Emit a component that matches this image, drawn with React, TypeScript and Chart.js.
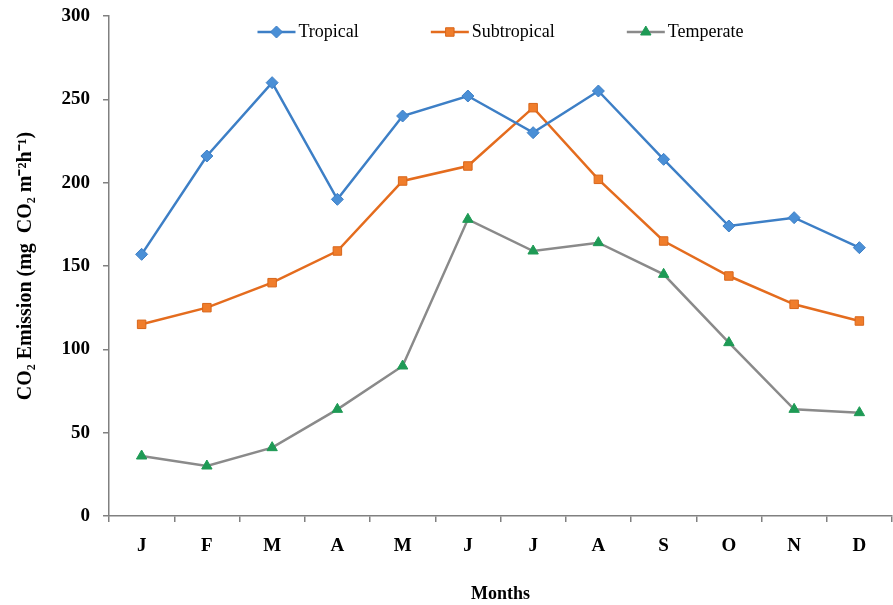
import React, { useEffect, useRef } from "react";
import { Chart, registerables } from "chart.js";

Chart.register(...registerables);

const months = ["J", "F", "M", "A", "M", "J", "J", "A", "S", "O", "N", "D"];
const tropical = [157, 216, 260, 190, 240, 252, 230, 255, 214, 174, 179, 161];
const subtropical = [115, 125, 140, 159, 201, 210, 245, 202, 165, 144, 127, 117];
const temperate = [36, 30, 41, 64, 90, 178, 159, 164, 145, 104, 64, 62];
const yTicks = [0, 50, 100, 150, 200, 250, 300];

const SERIF = '"Liberation Serif", "Times New Roman", serif';

function drawMarker(ctx: CanvasRenderingContext2D, style: string, r: number, x: number, y: number) {
  ctx.beginPath();
  if (style === "rectRot") {
    ctx.moveTo(x, y - r);
    ctx.lineTo(x + r, y);
    ctx.lineTo(x, y + r);
    ctx.lineTo(x - r, y);
  } else if (style === "rect") {
    const s = r * Math.SQRT1_2;
    ctx.rect(x - s, y - s, 2 * s, 2 * s);
  } else {
    const h = r * 1.5;
    ctx.moveTo(x, y - r);
    ctx.lineTo(x + h / Math.sqrt(3), y + r / 2);
    ctx.lineTo(x - h / Math.sqrt(3), y + r / 2);
  }
  ctx.closePath();
  ctx.fill();
  ctx.stroke();
}

const legendPlugin = {
  id: "customLegend",
  afterDraw(chart: any) {
    const ctx = chart.ctx;
    const area = chart.chartArea;
    const lineLen = 38;
    const gapText = 3;
    const gapItem = 72;
    const y = 32;
    ctx.save();
    ctx.font = `18px ${SERIF}`;
    const items = chart.data.datasets.map((ds: any) => ({
      ds,
      w: lineLen + gapText + ctx.measureText(ds.label).width,
    }));
    const total = items.reduce((s: number, it: any) => s + it.w, 0) + gapItem * (items.length - 1);
    let x = (area.left + area.right) / 2 - total / 2;
    items.forEach((it: any) => {
      const ds = it.ds;
      ctx.strokeStyle = ds.borderColor;
      ctx.lineWidth = ds.borderWidth;
      ctx.beginPath();
      ctx.moveTo(x, y);
      ctx.lineTo(x + lineLen, y);
      ctx.stroke();
      ctx.fillStyle = ds.pointBackgroundColor;
      ctx.strokeStyle = ds.pointBorderColor;
      ctx.lineWidth = 1;
      drawMarker(ctx, ds.pointStyle, ds.pointRadius, x + lineLen / 2, y);
      ctx.fillStyle = "#000";
      ctx.textBaseline = "middle";
      ctx.textAlign = "left";
      ctx.fillText(ds.label, x + lineLen + gapText, y);
      x += it.w + gapItem;
    });
    ctx.restore();
  },
};

export default function App() {
  const ref = useRef<HTMLCanvasElement>(null);
  useEffect(() => {
    if (!ref.current) return;
    const chart = new Chart(ref.current, {
      type: "line",
      data: {
        labels: months,
        datasets: [
          {
            label: "Tropical",
            data: tropical,
            borderColor: "#3D7FC6",
            borderWidth: 2.5,
            pointStyle: "rectRot",
            pointRadius: 6,
            pointBackgroundColor: "#4A8FD6",
            pointBorderColor: "#3D7FC6",
            pointBorderWidth: 1,
            tension: 0,
          },
          {
            label: "Subtropical",
            data: subtropical,
            borderColor: "#E46C1E",
            borderWidth: 2.5,
            pointStyle: "rect",
            pointRadius: 6,
            pointBackgroundColor: "#F07D2B",
            pointBorderColor: "#D8661A",
            pointBorderWidth: 1,
            tension: 0,
          },
          {
            label: "Temperate",
            data: temperate,
            borderColor: "#8A8A8A",
            borderWidth: 2.5,
            pointStyle: "triangle",
            pointRadius: 6,
            pointBackgroundColor: "#1E9A55",
            pointBorderColor: "#1E9A55",
            pointBorderWidth: 1,
            tension: 0,
          },
        ],
      },
      options: {
        responsive: false,
        animation: false,
        layout: { autoPadding: false, padding: { top: 16, right: 1, left: 0, bottom: 0 } },
        plugins: { legend: { display: false }, tooltip: { enabled: false } },
        scales: {
          x: {
            offset: true,
            grid: {
              offset: true,
              drawOnChartArea: false,
              drawTicks: true,
              tickLength: 6,
              color: "#808080",
              lineWidth: 1.5,
            },
            border: { display: true, color: "#808080", width: 1.5 },
            ticks: {
              color: "#000",
              font: { family: SERIF, size: 19, weight: "bold" },
              padding: 13,
              maxRotation: 0,
            },
            title: {
              display: true,
              text: "Months",
              color: "#000",
              font: { family: SERIF, size: 18, weight: "bold" },
              padding: { top: 0, bottom: 0 },
            },
            afterFit(scale: any) {
              scale.height = 89;
              scale.paddingLeft = 0;
              scale.paddingRight = 0;
            },
          },
          y: {
            min: 0,
            max: 300,
            afterBuildTicks(scale: any) {
              scale.ticks = yTicks.map((v) => ({ value: v }));
            },
            grid: {
              drawOnChartArea: false,
              drawTicks: true,
              tickLength: 6,
              color: "#808080",
              lineWidth: 1.5,
            },
            border: { display: true, color: "#808080", width: 1.5 },
            ticks: {
              color: "#000",
              font: { family: SERIF, size: 19, weight: "bold" },
              padding: 13,
            },
            title: {
              display: true,
              text: "CO\u2082 Emission (mg  CO\u2082 m\u207B\u00B2h\u207B\u00B9)",
              color: "#000",
              font: { family: SERIF, size: 20, weight: "bold" },
              padding: { top: 14, bottom: 0 },
            },
            afterFit(scale: any) {
              scale.width = 109;
              scale.paddingTop = 0;
              scale.paddingBottom = 0;
            },
          },
        },
      },
      plugins: [legendPlugin],
    } as any);
    return () => chart.destroy();
  }, []);
  return (
    <div style={{ position: "fixed", left: 0, top: 0, width: 893, height: 605, background: "#fff" }}>
      <canvas ref={ref} width={893} height={605} />
    </div>
  );
}
